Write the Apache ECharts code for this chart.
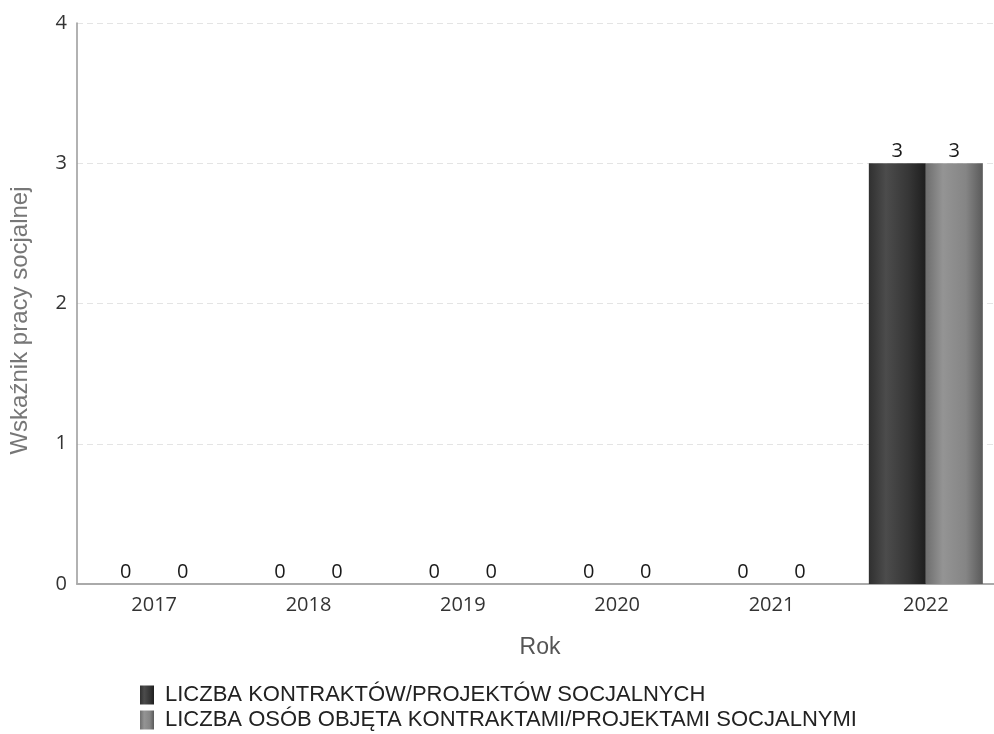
<!DOCTYPE html>
<html><head><meta charset="utf-8">
<script src="https://cdn.jsdelivr.net/npm/echarts@6/dist/echarts.min.js"></script>
<style>html,body{margin:0;padding:0;background:#fff;overflow:hidden}#c{width:994px;height:734px}</style>
</head><body><div id="c"></div>
<script>
const categories = ['2017','2018','2019','2020','2021','2022'];
const seriesNames = ['LICZBA KONTRAKTÓW/PROJEKTÓW SOCJALNYCH','LICZBA OSÓB OBJĘTA KONTRAKTAMI/PROJEKTAMI SOCJALNYMI'];
const contracts = [0,0,0,0,0,3];
const persons = [0,0,0,0,0,3];
const yTicks = [0,1,2,3,4];

const darkFill = new echarts.graphic.LinearGradient(0,0,1,0,[
  {offset:0,color:'#303030'},{offset:0.3,color:'#4c4c4c'},{offset:0.7,color:'#363636'},{offset:1,color:'#1e1e1e'}]);
const lightFill = new echarts.graphic.LinearGradient(0,0,1,0,[
  {offset:0,color:'#6e6e6e'},{offset:0.3,color:'#949494'},{offset:0.7,color:'#858585'},{offset:1,color:'#5a5a5a'}]);

const labelStyle = {show:true, position:'top', distance:2, color:'#1a1a1a', fontSize:20, fontFamily:'Open Sans'};

const chart = echarts.init(document.getElementById('c'), null, {renderer:'canvas'});
chart.setOption({
  animation:false,
  backgroundColor:'#fff',
  grid:{left:77, top:23, width:926, height:561, containLabel:false, outerBoundsMode:'none'},
  legend:{
    orient:'vertical', left:140, top:684, height:60, padding:0,
    itemWidth:14, itemHeight:19, itemGap:3,
    icon:'rect', selectedMode:false,
    textStyle:{color:'#222', fontSize:22, lineHeight:20, fontFamily:'Liberation Sans', padding:[0,0,0,6]},
    data:seriesNames
  },
  xAxis:{
    type:'category', data:categories,
    name:'Rok', nameLocation:'middle', nameGap:52,
    nameTextStyle:{color:'#555', fontSize:23, fontFamily:'Liberation Sans'},
    axisLine:{lineStyle:{color:'#aaa', width:2}},
    axisTick:{show:false},
    axisLabel:{color:'#333', fontSize:20, fontFamily:'Open Sans', margin:11}
  },
  yAxis:{
    type:'value', min:yTicks[0], max:yTicks[yTicks.length-1], interval:1,
    name:'Wskaźnik pracy socjalnej', nameLocation:'middle', nameGap:45,
    nameTextStyle:{color:'#777', fontSize:24, fontFamily:'Liberation Sans', padding:[0,34,0,0]},
    axisLine:{show:true, lineStyle:{color:'#999', width:1.5}},
    axisTick:{show:false},
    axisLabel:{color:'#333', fontSize:20, fontFamily:'Open Sans', margin:10},
    splitLine:{show:true, lineStyle:{color:'#e4e4e4', type:[6,4]}}
  },
  series:[
    {name:seriesNames[0], type:'bar', data:contracts, barWidth:57, barGap:'0%',
     itemStyle:{color:darkFill}, label:labelStyle},
    {name:seriesNames[1], type:'bar', data:persons, barWidth:57, barGap:'0%',
     itemStyle:{color:lightFill}, label:labelStyle}
  ]
});
</script></body></html>
